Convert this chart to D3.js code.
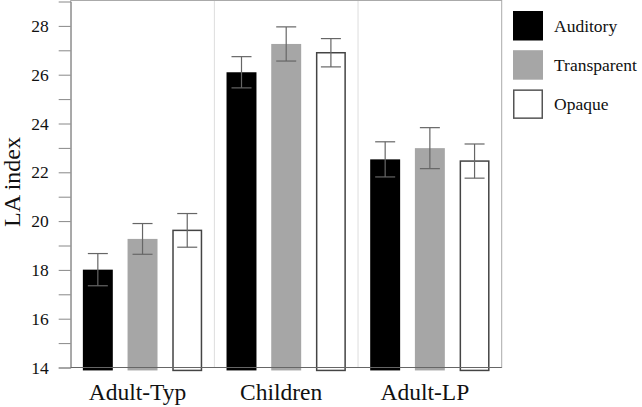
<!DOCTYPE html>
<html><head><meta charset="utf-8">
<script src="https://cdn.jsdelivr.net/npm/d3@7"></script>
<style>body{margin:0;background:#fff}svg{display:block}</style>
</head><body>
<svg id="c" width="642" height="407"></svg>
<script>
const categories = ["Adult-Typ", "Children", "Adult-LP"];
const series = ["Auditory", "Transparent", "Opaque"];
const auditory = [18.01, 26.10, 22.53];
const transparent = [19.27, 27.26, 22.99];
const opaque = [19.62, 26.90, 22.46];
const auditoryErr = [0.66, 0.64, 0.72];
const transparentErr = [0.63, 0.70, 0.84];
const opaqueErr = [0.69, 0.58, 0.70];
const yTicks = [14, 16, 18, 20, 22, 24, 26, 28];
const yMinorTicks = [15, 17, 19, 21, 23, 25, 27];

const values = [auditory, transparent, opaque];
const errs = [auditoryErr, transparentErr, opaqueErr];
const fills = ["#000000", "#a6a6a6", "#ffffff"];
const strokes = ["none", "none", "#444"];
const FONT = "Liberation Serif";

const svg = d3.select("#c");
const L = 70.7, R = 501.7, T = 1.5, B = 367.5;
const y = d3.scaleLinear().domain([14, 29]).range([B, T]);
const x0 = d3.scaleBand().domain(categories).range([L, R]).padding(0);
const x1 = d3.scaleBand().domain(series).range([0, x0.bandwidth()]).paddingInner(0.33).paddingOuter(0.272);

// frame
svg.append("rect").attr("x", L).attr("y", 0.5).attr("width", R - L).attr("height", B - 0.5)
  .attr("fill", "none").attr("stroke", "#aaa").attr("stroke-width", 1);
// group separators
svg.selectAll(".sep").data(categories.slice(1)).enter().append("line")
  .attr("x1", d => x0(d)).attr("x2", d => x0(d)).attr("y1", 1).attr("y2", B)
  .attr("stroke", "#ddd").attr("stroke-width", 1);

// y axis
const yAxis = d3.axisLeft(y).tickValues(yTicks).tickSize(12).tickPadding(10).tickFormat(d3.format("d"));
const ga = svg.append("g").attr("transform", `translate(${L},0)`).call(yAxis);
ga.attr("font-family", FONT);
ga.select(".domain").attr("stroke", "#888");
ga.selectAll(".tick line").attr("stroke", "#888");
ga.selectAll(".tick text").attr("font-family", FONT).attr("font-size", 17.5).attr("fill", "#111");
const gm = svg.append("g").attr("transform", `translate(${L},0)`)
  .call(d3.axisLeft(y).tickValues(yMinorTicks).tickSize(12).tickFormat(""));
gm.select(".domain").remove();
gm.selectAll(".tick line").attr("stroke", "#888");

// bars
const groups = svg.selectAll(".grp").data(categories).enter().append("g")
  .attr("transform", d => `translate(${x0(d)},0)`);
series.forEach((s, si) => {
  groups.append("rect")
    .attr("x", x1(s) + (si === 2 ? 0.75 : 0))
    .attr("width", x1.bandwidth() - (si === 2 ? 1.5 : 0))
    .attr("y", (d, i) => y(values[si][i]))
    .attr("height", (d, i) => y(13.88) - y(values[si][i]))
    .attr("fill", fills[si]).attr("stroke", strokes[si]).attr("stroke-width", 1.5);
});
// bottom axis line
svg.append("line").attr("x1", L).attr("x2", R).attr("y1", B).attr("y2", B).attr("stroke", "#666").attr("stroke-width", 1);

// error bars
series.forEach((s, si) => {
  const cx = x1(s) + x1.bandwidth() / 2;
  const g = groups.append("g").attr("stroke", "#666").attr("stroke-width", 1.2);
  g.append("line").attr("x1", cx).attr("x2", cx)
    .attr("y1", (d, i) => y(values[si][i] + errs[si][i])).attr("y2", (d, i) => y(values[si][i] - errs[si][i]));
  g.append("line").attr("x1", cx - 10).attr("x2", cx + 10)
    .attr("y1", (d, i) => y(values[si][i] + errs[si][i])).attr("y2", (d, i) => y(values[si][i] + errs[si][i]));
  g.append("line").attr("x1", cx - 10).attr("x2", cx + 10)
    .attr("y1", (d, i) => y(values[si][i] - errs[si][i])).attr("y2", (d, i) => y(values[si][i] - errs[si][i]));
});

// x labels
svg.selectAll(".xl").data(categories).enter().append("text")
  .attr("x", d => x0(d) + x0.bandwidth() / 2 - 5).attr("y", 400)
  .attr("text-anchor", "middle").attr("font-family", FONT)
  .attr("font-size", 23.5).attr("fill", "#111").text(d => d);

// y label
svg.append("text").attr("transform", "translate(19.5,182) rotate(-90)")
  .attr("text-anchor", "middle").attr("font-family", FONT)
  .attr("font-size", 24).attr("fill", "#111").text("LA index");

// legend
const lg = svg.append("g").attr("transform", "translate(513,11)");
const items = lg.selectAll("g").data(series).enter().append("g")
  .attr("transform", (d, i) => `translate(0,${i * 39.2})`);
items.append("rect").attr("x", (d, i) => i === 2 ? 0.75 : 0).attr("y", (d, i) => i === 2 ? 0.75 : 0)
  .attr("width", (d, i) => i === 2 ? 28.5 : 30).attr("height", (d, i) => i === 2 ? 28 : 29.5)
  .attr("fill", (d, i) => fills[i]).attr("stroke", (d, i) => i === 2 ? "#555" : "none").attr("stroke-width", 1.5);
items.append("text").attr("x", 41).attr("y", 21)
  .attr("font-family", FONT).attr("font-size", 17.5).attr("fill", "#111")
  .text(d => d);
</script>
</body></html>
